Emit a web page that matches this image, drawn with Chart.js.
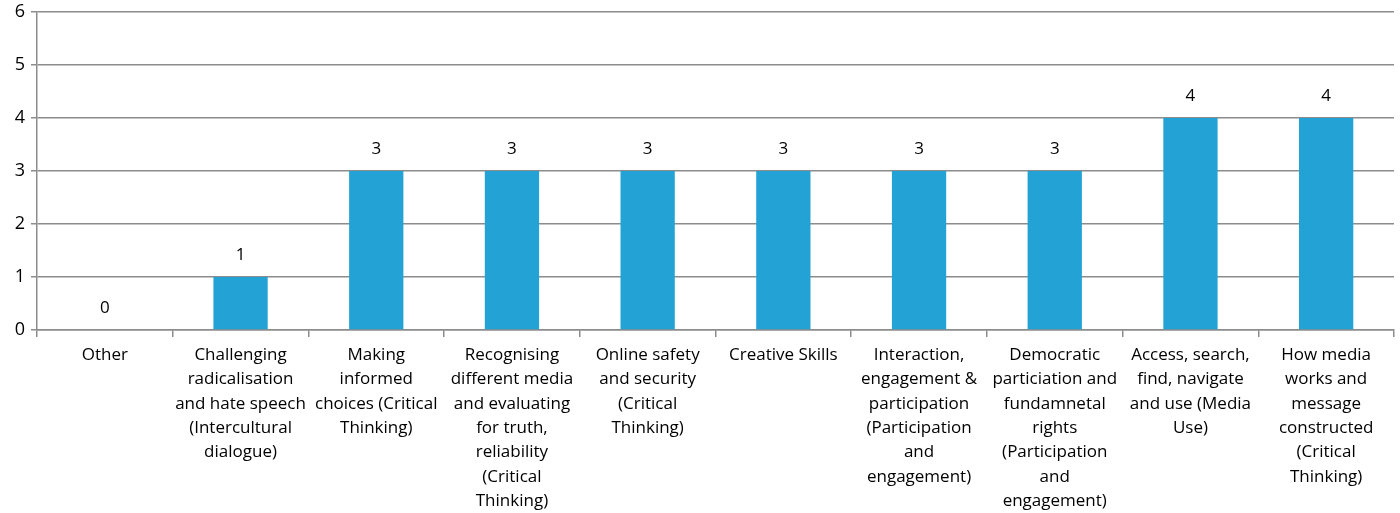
<!DOCTYPE html>
<html>
<head>
<meta charset="utf-8">
<script src="https://cdn.jsdelivr.net/npm/chart.js@4/dist/chart.umd.min.js"></script>
<style>
  html, body { margin: 0; padding: 0; background: #fff; }
  #wrap { width: 1400px; height: 513px; }
</style>
</head>
<body>
<div id="wrap"><canvas id="chart"></canvas></div>
<script>
const categories = [
  ['Other'],
  ['Challenging', 'radicalisation', 'and hate speech', '(Intercultural', 'dialogue)'],
  ['Making', 'informed', 'choices (Critical', 'Thinking)'],
  ['Recognising', 'different media', 'and evaluating', 'for truth,', 'reliability', '(Critical', 'Thinking)'],
  ['Online safety', 'and security', '(Critical', 'Thinking)'],
  ['Creative Skills'],
  ['Interaction,', 'engagement &', 'participation', '(Participation', 'and', 'engagement)'],
  ['Democratic', 'particiation and', 'fundamnetal', 'rights', '(Participation', 'and', 'engagement)'],
  ['Access, search,', 'find, navigate', 'and use (Media', 'Use)'],
  ['How media', 'works and', 'message', 'constructed', '(Critical', 'Thinking)']
]
const counts = [0, 1, 3, 3, 3, 3, 3, 3, 4, 4]
const yTicks = [0, 1, 2, 3, 4, 5, 6]

const gridColor = '#8c8c8c'
const fontFamily = '"Open Sans", Lato, sans-serif'

// value labels above each bar
const valueLabels = {
  id: 'valueLabels',
  afterDatasetsDraw(chart) {
    const { ctx } = chart
    const meta = chart.getDatasetMeta(0)
    ctx.save()
    ctx.font = '17px ' + fontFamily
    ctx.fillStyle = '#000'
    ctx.textAlign = 'center'
    ctx.textBaseline = 'middle'
    meta.data.forEach((bar, i) => {
      ctx.fillText(String(counts[i]), bar.x, bar.y - 22)
    })
    ctx.restore()
  }
}

new Chart(document.getElementById('chart').getContext('2d'), {
  type: 'bar',
  data: {
    labels: categories,
    datasets: [{
      data: counts,
      backgroundColor: '#23a2d6',
      borderWidth: 0,
      barPercentage: 0.4,
      categoryPercentage: 1
    }]
  },
  options: {
    responsive: true,
    maintainAspectRatio: false,
    animation: false,
    layout: { padding: { top: 0, right: 6, left: 0, bottom: 0 } },
    plugins: {
      legend: { display: false },
      tooltip: { enabled: false }
    },
    scales: {
      x: {
        offset: true,
        grid: {
          offset: true,
          drawOnChartArea: false,
          drawTicks: true,
          tickLength: 7,
          color: gridColor,
          lineWidth: 1.5
        },
        border: { color: gridColor, width: 1.5 },
        ticks: {
          maxRotation: 0,
          autoSkip: false,
          padding: 6,
          color: '#000',
          font: { family: fontFamily, size: 17, lineHeight: 1.43 }
        },
        afterFit(scale) { scale.height = 183 }
      },
      y: {
        min: 0,
        max: 6,
        afterBuildTicks(scale) { scale.ticks = yTicks.map(v => ({ value: v })) },
        grid: {
          color: gridColor,
          lineWidth: 1.5,
          drawTicks: true,
          tickLength: 6
        },
        border: { color: gridColor, width: 1.5 },
        ticks: {
          padding: 6,
          color: '#000',
          font: { family: fontFamily, size: 18 }
        },
        afterFit(scale) {
          scale.width = 37
          scale.paddingTop = 12
          scale.paddingBottom = 0
        }
      }
    }
  },
  plugins: [valueLabels]
})
</script>
</body>
</html>
